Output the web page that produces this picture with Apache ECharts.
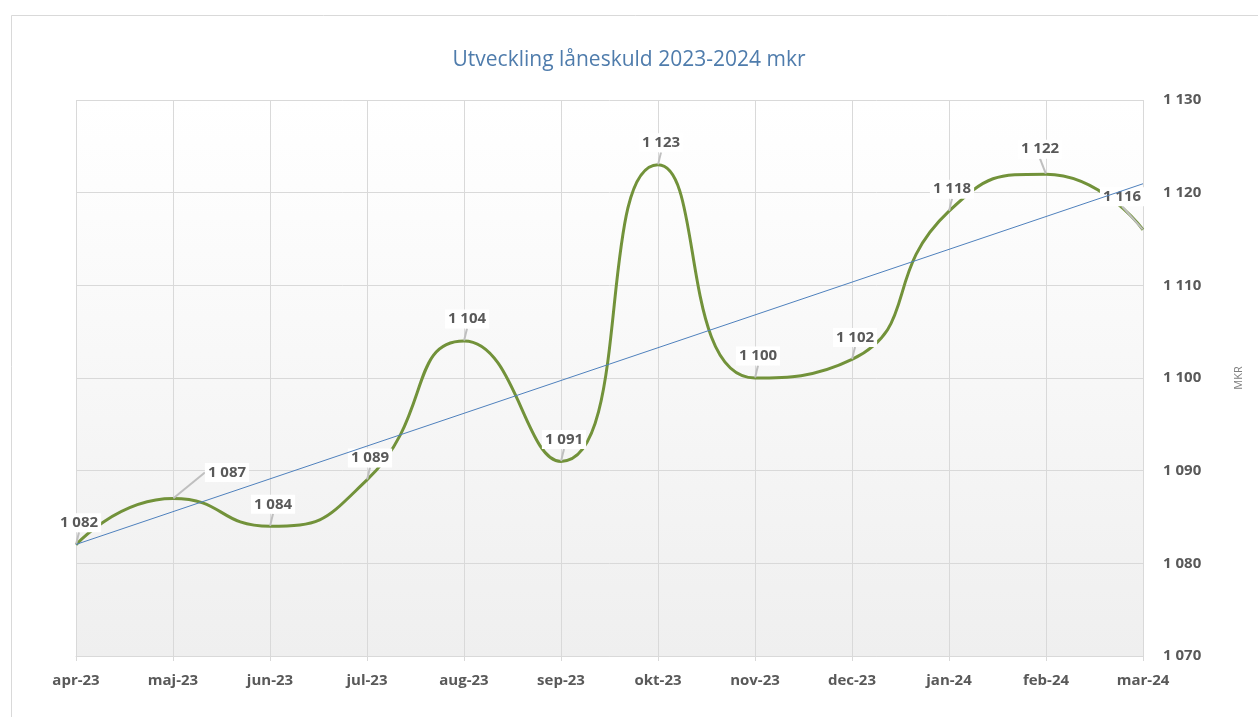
<!DOCTYPE html>
<html>
<head>
<meta charset="utf-8">
<script src="https://cdn.jsdelivr.net/npm/echarts@6/dist/echarts.min.js"></script>
<style>
html,body{margin:0;padding:0;background:#fff;}
#c{width:1258px;height:717px;}
</style>
</head>
<body>
<div id="c"></div>
<script>
const title = 'Utveckling låneskuld 2023-2024 mkr';
const categories = ['apr-23','maj-23','jun-23','jul-23','aug-23','sep-23','okt-23','nov-23','dec-23','jan-24','feb-24','mar-24'];
const values = [1082, 1087, 1084, 1089, 1104, 1091, 1123, 1100, 1102, 1118, 1122, 1116];
const yMin = 1070, yMax = 1130, yStep = 10;
const axisName = 'MKR';

// linear trendline (least squares) from the data
const n = values.length;
const mx = (n - 1) / 2;
const my = values.reduce((a, b) => a + b, 0) / n;
let sxy = 0, sxx = 0;
values.forEach((v, i) => { sxy += (i - mx) * (v - my); sxx += (i - mx) * (i - mx); });
const slope = sxy / sxx, icpt = my - slope * mx;
const trend = values.map((v, i) => icpt + slope * i);

const fmt = v => { const s = String(Math.round(v)); return s.replace(/\B(?=(\d{3})+(?!\d))/g, ' '); };

const labelShift = {1: [54, -11], 10: [-6, -10], 11: [-21, -18]};
const defaultShift = [3, -7];

const chart = echarts.init(document.getElementById('c'));
chart.setOption({
  backgroundColor: '#ffffff',
  animation: false,
  title: {
    text: title, left: 'center', top: 45,
    textStyle: { fontFamily: 'Open Sans', fontSize: 21, fontWeight: 'normal', color: '#4f7cac' }
  },
  graphic: [{
    type: 'rect', left: 9, top: 13, shape: { width: 1270, height: 730 },
    style: { fill: 'none', stroke: '#d9d9d9', lineWidth: 1 }, silent: true, z: -1
  }],
  grid: {
    left: 76, right: 115, top: 100, bottom: 61, show: true, borderWidth: 0,
    backgroundColor: new echarts.graphic.LinearGradient(0, 0, 0, 1, [
      { offset: 0, color: '#ffffff' }, { offset: 0.15, color: '#fdfdfd' }, { offset: 1, color: '#efefef' }
    ])
  },
  xAxis: {
    type: 'category', data: categories, boundaryGap: false,
    axisLine: { show: true, lineStyle: { color: '#d9d9d9' } },
    axisTick: { show: true, length: 5, lineStyle: { color: '#d9d9d9' } },
    splitLine: { show: true, lineStyle: { color: '#d9d9d9' } },
    axisLabel: { margin: 17, fontFamily: 'Open Sans', fontSize: 15, fontWeight: 'bold', color: '#595959' }
  },
  yAxis: {
    type: 'value', position: 'right', min: yMin, max: yMax, interval: yStep,
    name: axisName, nameLocation: 'middle', nameGap: 90, nameRotate: 90,
    nameTextStyle: { fontFamily: 'Open Sans', fontSize: 11, color: '#7f7f7f' },
    axisLine: { show: false }, axisTick: { show: false },
    splitLine: { show: true, lineStyle: { color: '#d9d9d9' } },
    axisLabel: { margin: 20, formatter: fmt, fontFamily: 'Open Sans', fontSize: 15, fontWeight: 'bold', color: '#595959' }
  },
  series: [
    {
      type: 'line', data: values, smooth: 0.55,
      symbol: 'circle', symbolSize: 1, showSymbol: true,
      itemStyle: { color: 'rgba(0,0,0,0)' },
      lineStyle: { color: '#72923a', width: 3 },
      label: {
        show: true, position: 'top', formatter: p => fmt(p.value),
        fontFamily: 'Open Sans', fontSize: 15, fontWeight: 'bold', color: '#595959',
        backgroundColor: '#ffffff', padding: [2, 3]
      },
      labelLine: { show: true, lineStyle: { color: '#bfbfbf', width: 2 } },
      labelLayout: function (p) {
        const s = labelShift[p.dataIndex] || defaultShift;
        return { dx: s[0], dy: s[1], hideOverlap: false };
      },
      z: 3
    },
    {
      type: 'line', data: trend, symbol: 'none', smooth: false,
      lineStyle: { color: '#4f81bd', width: 1 }, z: 4, silent: true
    }
  ]
});
</script>
</body>
</html>
